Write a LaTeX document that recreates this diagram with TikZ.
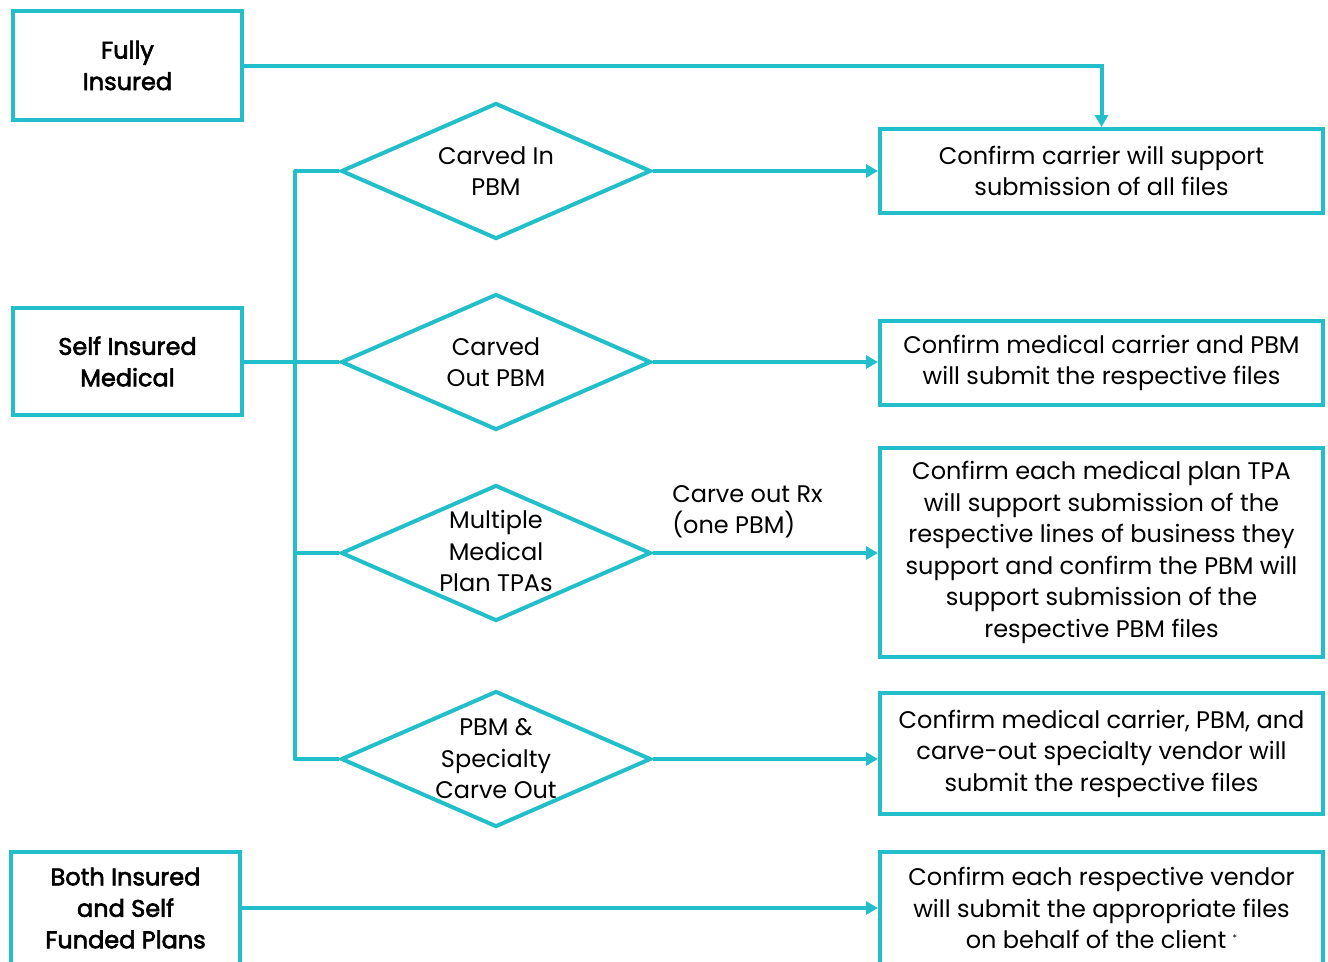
\documentclass[tikz,border=0pt]{standalone}
\usepackage{fontspec}
\setmainfont{Poppins}
\newfontfamily\leftfont[FakeBold=2.5]{Poppins}
\usetikzlibrary{shapes.geometric,arrows.meta}

\newlength{\du}
\setlength{\du}{0.75pt}
\definecolor{dialinecolor}{rgb}{0.133, 0.749, 0.792}

\tikzset{
  dialine/.style={draw=dialinecolor, line width=4\du},
  dialarrow/.style={dialine, -{Triangle[length=9pt,width=9.75pt]}},
  plainbox/.style={dialine, fill=white, inner sep=0pt, align=center,
    font=\fontsize{18}{23.6}\selectfont},
  leftbox/.style={plainbox, minimum width=229\du, font=\fontsize{18}{23.6}\leftfont},
  rightbox/.style={plainbox, minimum width=443\du},
  decision/.style={diamond, dialine, inner sep=0pt, minimum width=310\du, minimum height=136\du},
  dialabel/.style={align=center, inner sep=0pt, font=\fontsize{18}{23.6}\selectfont},
}

\begin{document}
\begin{tikzpicture}
\pgftransformyscale{-1.000000}
\useasboundingbox (0\du,0\du) rectangle (1328\du,961\du);

% left column
\node[leftbox, minimum height=109\du] (fully) at (127.5\du,65.5\du) {Fully\\Insured};
\node[leftbox, minimum height=107\du] (selfins) at (127.5\du,361.5\du) {Self Insured\\Medical};
\node[leftbox, minimum height=112\du] (both) at (125.5\du,908\du) {Both Insured\\and Self\\Funded Plans};

% decisions
\node[decision] (carvedin) at (496\du,171\du) {};
\node[dialabel] at (carvedin) {Carved In\\PBM};
\node[decision] (carvedout) at (496\du,362\du) {};
\node[dialabel] at (carvedout) {Carved\\Out PBM};
\node[decision] (multi) at (496\du,553\du) {};
\node[dialabel] at ([yshift=-2\du]multi) {Multiple\\Medical\\Plan TPAs};
\node[decision] (specialty) at (496\du,759\du) {};
\node[dialabel] at (specialty) {PBM \&\\Specialty\\Carve Out};

% right column
\node[rightbox, minimum height=84\du] (allfiles) at (1101.5\du,171\du) {Confirm carrier will support\\submission of all files};
\node[rightbox, minimum height=84\du] (respfiles) at (1101.5\du,363\du) {Confirm medical carrier and PBM\\will submit the respective files};
\node[rightbox, minimum height=209\du] (tpafiles) at (1101.5\du,552.5\du) {Confirm each medical plan TPA\\will support submission of the\\respective lines of business they\\support and confirm the PBM will\\support submission of the\\respective PBM files};
\node[rightbox, minimum height=121\du] (vendorfiles) at (1101.5\du,753.5\du) {Confirm medical carrier, PBM, and\\carve-out specialty vendor will\\submit the respective files};
\node[rightbox, minimum height=112\du] (clientfiles) at (1101.5\du,908\du) {Confirm each respective vendor\\will submit the appropriate files\\on behalf of the client \raisebox{0.5ex}{\scriptsize *}};

\coordinate (sp1) at (295\du,171\du);
\coordinate (sp3) at (295\du,553\du);
\coordinate (sp4) at (295\du,759\du);

\draw[dialarrow] (fully.east) -| (allfiles.north);
\draw[dialine] (selfins.east) -- (selfins.east -| carvedout.west);
\draw[dialine, line join=round] (carvedin.west) -- (sp1) -- (sp4) -- (specialty.west);
\draw[dialine] (sp3) -- (multi.west);

\draw[dialarrow] (carvedin.east) -- (carvedin.east -| allfiles.west);
\draw[dialarrow] (carvedout.east) -- (carvedout.east -| respfiles.west);
\draw[dialarrow] (multi.east) -- (multi.east -| tpafiles.west);
\draw[dialarrow] (specialty.east) -- (specialty.east -| vendorfiles.west);
\draw[dialarrow] (both.east) -- (both.east -| clientfiles.west);

\node[dialabel, align=left, anchor=west] (rxlabel) at (672\du,512\du) {Carve out Rx\\(one PBM)};
\end{tikzpicture}
\end{document}
